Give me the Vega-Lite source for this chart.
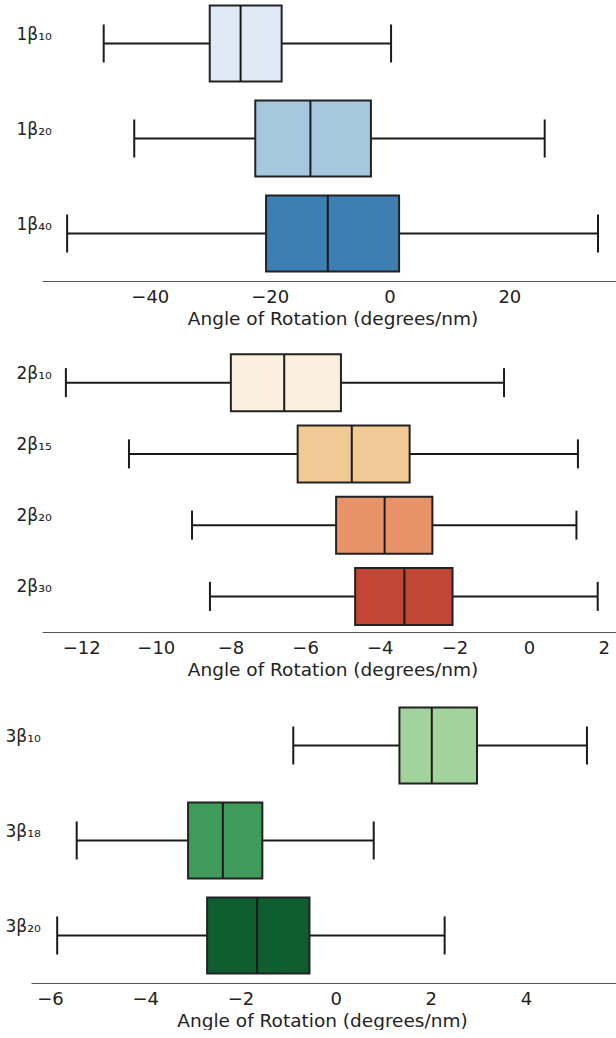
{
  "$schema": "https://vega.github.io/schema/vega-lite/v6.json",
  "padding": {"left": 5, "top": 0, "right": 0, "bottom": 0},
  "background": "white",
  "spacing": 19,
  "resolve": {"scale": {"color": "independent", "x": "independent", "y": "independent"}},
  "datasets": {
    "p1": [
      {"label": "1β₁₀", "min": -47.7, "q1": -30.0, "median": -24.85, "q3": -18.0, "max": 0.26},
      {"label": "1β₂₀", "min": -42.6, "q1": -22.4, "median": -13.2, "q3": -3.1, "max": 25.9},
      {"label": "1β₄₀", "min": -53.8, "q1": -20.6, "median": -10.3, "q3": 1.6, "max": 34.8}
    ],
    "p2": [
      {"label": "2β₁₀", "min": -12.41, "q1": -7.99, "median": -6.56, "q3": -5.04, "max": -0.67},
      {"label": "2β₁₅", "min": -10.72, "q1": -6.2, "median": -4.75, "q3": -3.2, "max": 1.31},
      {"label": "2β₂₀", "min": -9.03, "q1": -5.17, "median": -3.87, "q3": -2.59, "max": 1.27},
      {"label": "2β₃₀", "min": -8.55, "q1": -4.66, "median": -3.34, "q3": -2.05, "max": 1.84}
    ],
    "p3": [
      {"label": "3β₁₀", "min": -0.89, "q1": 1.34, "median": 2.02, "q3": 2.97, "max": 5.28},
      {"label": "3β₁₈", "min": -5.44, "q1": -3.1, "median": -2.37, "q3": -1.54, "max": 0.8},
      {"label": "3β₂₀", "min": -5.85, "q1": -2.7, "median": -1.65, "q3": -0.55, "max": 2.29}
    ]
  },
  "vconcat": [
    {
      "width": 585, "height": 281,
      "data": {"name": "p1"},
      "encoding": {
        "y": {"field": "label", "type": "nominal", "sort": null,
          "scale": {"range": [-4, 281], "paddingInner": 0.2, "paddingOuter": 0.1},
          "axis": {"title": null, "labelPadding": 15}}
      },
      "layer": [
        {"mark": {"type": "rule", "color": "#1a1a1a", "strokeWidth": 2},
          "encoding": {"x": {"field": "min", "type": "quantitative",
            "scale": {"domain": [-59.83, 37.8], "nice": false, "zero": false},
            "axis": {"values": [-40, -20, 0, 20], "title": "Angle of Rotation (degrees/nm)", "domainDash": [0, 11, 10000], "titleX": 301.5}},
            "x2": {"field": "max"}}},
        {"mark": {"type": "bar", "stroke": "#222222", "strokeWidth": 2},
          "encoding": {"x": {"field": "q1", "type": "quantitative"}, "x2": {"field": "q3"},
            "color": {"field": "label", "type": "nominal", "legend": null, "sort": null,
              "scale": {"domain": ["1β₁₀", "1β₂₀", "1β₄₀"], "range": ["#dfeaf6", "#a5c8df", "#3d7eb3"]}}}},
        {"mark": {"type": "tick", "orient": "vertical", "size": 76, "thickness": 2, "color": "#1a1a1a", "opacity": 1},
          "encoding": {"x": {"field": "median", "type": "quantitative"}}},
        {"mark": {"type": "tick", "orient": "vertical", "size": 38, "thickness": 2, "color": "#1a1a1a", "opacity": 1},
          "encoding": {"x": {"field": "min", "type": "quantitative"}}},
        {"mark": {"type": "tick", "orient": "vertical", "size": 38, "thickness": 2, "color": "#1a1a1a", "opacity": 1},
          "encoding": {"x": {"field": "max", "type": "quantitative"}}}
      ]
    },
    {
      "width": 585, "height": 285,
      "data": {"name": "p2"},
      "encoding": {
        "y": {"field": "label", "type": "nominal", "sort": null,
          "scale": {"paddingInner": 0.2, "paddingOuter": 0.1},
          "axis": {"title": null, "labelPadding": 15}}
      },
      "layer": [
        {"mark": {"type": "rule", "color": "#1a1a1a", "strokeWidth": 2},
          "encoding": {"x": {"field": "min", "type": "quantitative",
            "scale": {"domain": [-13.345, 2.33], "nice": false, "zero": false},
            "axis": {"values": [-12, -10, -8, -6, -4, -2, 0, 2], "title": "Angle of Rotation (degrees/nm)", "domainDash": [0, 11, 10000], "titleX": 301.5}},
            "x2": {"field": "max"}}},
        {"mark": {"type": "bar", "stroke": "#222222", "strokeWidth": 2},
          "encoding": {"x": {"field": "q1", "type": "quantitative"}, "x2": {"field": "q3"},
            "color": {"field": "label", "type": "nominal", "legend": null, "sort": null,
              "scale": {"domain": ["2β₁₀", "2β₁₅", "2β₂₀", "2β₃₀"], "range": ["#fbefdf", "#f0c994", "#e8926a", "#c24535"]}}}},
        {"mark": {"type": "tick", "orient": "vertical", "size": 57, "thickness": 2, "color": "#1a1a1a", "opacity": 1},
          "encoding": {"x": {"field": "median", "type": "quantitative"}}},
        {"mark": {"type": "tick", "orient": "vertical", "size": 29, "thickness": 2, "color": "#1a1a1a", "opacity": 1},
          "encoding": {"x": {"field": "min", "type": "quantitative"}}},
        {"mark": {"type": "tick", "orient": "vertical", "size": 29, "thickness": 2, "color": "#1a1a1a", "opacity": 1},
          "encoding": {"x": {"field": "max", "type": "quantitative"}}}
      ]
    },
    {
      "width": 585, "height": 285,
      "data": {"name": "p3"},
      "encoding": {
        "y": {"field": "label", "type": "nominal", "sort": null,
          "scale": {"paddingInner": 0.2, "paddingOuter": 0.1},
          "axis": {"title": null, "labelPadding": 26}}
      },
      "layer": [
        {"mark": {"type": "rule", "color": "#1a1a1a", "strokeWidth": 2},
          "encoding": {"x": {"field": "min", "type": "quantitative",
            "scale": {"domain": [-6.4, 5.89], "nice": false, "zero": false},
            "axis": {"values": [-6, -4, -2, 0, 2, 4], "title": "Angle of Rotation (degrees/nm)", "titleX": 291}},
            "x2": {"field": "max"}}},
        {"mark": {"type": "bar", "stroke": "#222222", "strokeWidth": 2},
          "encoding": {"x": {"field": "q1", "type": "quantitative"}, "x2": {"field": "q3"},
            "color": {"field": "label", "type": "nominal", "legend": null, "sort": null,
              "scale": {"domain": ["3β₁₀", "3β₁₈", "3β₂₀"], "range": ["#a3d39c", "#409a59", "#0f5e30"]}}}},
        {"mark": {"type": "tick", "orient": "vertical", "size": 76, "thickness": 2, "color": "#1a1a1a", "opacity": 1},
          "encoding": {"x": {"field": "median", "type": "quantitative"}}},
        {"mark": {"type": "tick", "orient": "vertical", "size": 38, "thickness": 2, "color": "#1a1a1a", "opacity": 1},
          "encoding": {"x": {"field": "min", "type": "quantitative"}}},
        {"mark": {"type": "tick", "orient": "vertical", "size": 38, "thickness": 2, "color": "#1a1a1a", "opacity": 1},
          "encoding": {"x": {"field": "max", "type": "quantitative"}}}
      ]
    }
  ],
  "config": {
    "font": "DejaVu Sans",
    "view": {"stroke": null},
    "axis": {"grid": false},
    "axisX": {"domainColor": "#555555", "domainWidth": 1.2, "ticks": false, "tickSize": 0, "labelFontSize": 18, "labelColor": "#222222", "labelPadding": 7, "titleFontSize": 18.5, "titleFontWeight": "normal", "titleColor": "#222222", "titlePadding": 3, "titleAlign": "center", "labelFlush": false},
    "axisY": {"domain": false, "ticks": false, "tickSize": 0, "labelAlign": "left", "labelFontSize": 17, "labelColor": "#222222", "labelOffset": -9, "labelBaseline": "middle"}
  }
}
